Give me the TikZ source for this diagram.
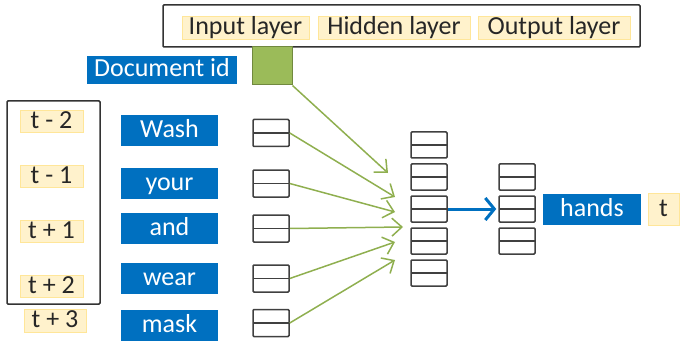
\documentclass[tikz,border=0pt]{standalone}
\usepackage{fontspec}
\setmainfont{Carlito}
\usetikzlibrary{arrows.meta}

\definecolor{wordblue}{HTML}{0070C0}
\definecolor{posfill}{HTML}{FFF2CC}
\definecolor{posline}{HTML}{FFE699}
\definecolor{linkgreen}{HTML}{8FAF4F}
\definecolor{docgreen}{HTML}{9BBB59}
\definecolor{docline}{HTML}{71893F}
\definecolor{celline}{HTML}{404040}

\tikzset{
    every node/.style={font=\fontsize{26}{28}\selectfont, inner sep=0pt, text height=18pt, text depth=4pt},
    wordbox/.style={fill=wordblue, text=white, minimum width=97pt, minimum height=31pt},
    posbox/.style={fill=posfill, draw=posline, line width=1pt, text=black!85, minimum height=23pt},
    vecbox/.style={draw=celline, line width=1.5pt, rounded corners=1pt, minimum width=36pt, minimum height=27pt,
        path picture={\draw[celline, line width=1.5pt] (path picture bounding box.west) -- (path picture bounding box.east);}},
    frame/.style={draw=black!80, line width=1.5pt, rounded corners=1pt},
    link/.style={draw=linkgreen, line width=1.5pt, -{Straight Barb[length=10pt, width=18pt, line width=1.5pt]}},
    push/.style={draw=wordblue, line width=3pt, -{Straight Barb[length=9pt, width=22pt, line width=3pt]}}
}

\begin{document}
\begin{tikzpicture}[x=1pt, y=-1pt]
                    \useasboundingbox (0,0) rectangle (680,342);

                    % legend on top
                    \node[frame, minimum width=477pt, minimum height=42pt] (legend) at (401.5,26) {};
                    \node[posbox, minimum width=127pt] (inlab) at (245.5,28) {Input layer};
                    \node[posbox, minimum width=152pt] (hidlab) at (394,28) {Hidden layer};
                    \node[posbox, minimum width=152pt] (outlab) at (554,28) {Output layer};

                    % paragraph vector
                    \node[wordbox, minimum width=150pt, minimum height=28pt] (docid) at (162,70) {Document id};
                    \node[fill=docgreen, draw=docline, line width=1pt, minimum width=40pt, minimum height=38pt] (docvec) at (272,66) {};

                    % context window
                    \node[frame, minimum width=93pt, minimum height=203pt] (window) at (53.5,202.5) {};

                    \foreach \lab/\y [count=\i] in {t - 2/122, t - 1/176.5, t + 1/231, t + 2/286} {
                        \node[posbox, minimum width=63pt, minimum height=22pt] (pos\i) at (51.5,\y) {\lab};
                    }
                    \node[posbox, minimum width=62pt] (pos5) at (55,320.5) {t + 3};

                    \foreach \w/\y/\v [count=\i] in {Wash/130.5/133, your/183.5/183.5, and/228/228.5, wear/278.5/278.5, mask/325/323} {
                        \node[wordbox] (word\i) at (169.5,\y) {\w};
                        \node[vecbox] (vec\i) at (271,\v) {};
                    }

                    % hidden and output layers
                    \foreach \i in {1,...,5} {
                        \pgfmathsetmacro{\y}{145 + 32*(\i-1)}
                        \node[vecbox, minimum height=26pt] (hid\i) at (429,\y) {};
                    }
                    \foreach \i in {1,...,3} {
                        \pgfmathsetmacro{\y}{177 + 32*(\i-1)}
                        \node[vecbox, minimum height=26pt] (out\i) at (517,\y) {};
                    }

                    \node[wordbox, minimum width=98pt] (target) at (592,209.5) {hands};
                    \node[posbox, minimum width=31pt, minimum height=32pt] (tpos) at (663.5,209.5) {t};

                    % links into the hidden layer
                    \coordinate (tip0) at (388,173);
                    \foreach \x/\y [count=\i] in {395/197, 395/212, 403/227, 395/242, 395/260} {
                        \coordinate (tip\i) at (\x,\y);
                    }
                    \draw[link] (docvec.south east) -- (tip0);
                    \foreach \i in {1,...,5} {
                        \draw[link] (vec\i.east) -- (tip\i);
                    }

                    \draw[push] (hid3.east) -- ([xshift=-2pt]out2.west);
                \end{tikzpicture}
\end{document}
